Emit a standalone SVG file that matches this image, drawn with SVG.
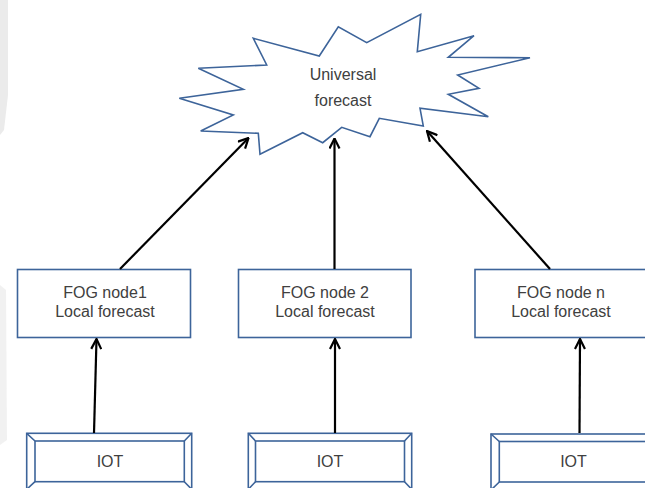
<svg xmlns="http://www.w3.org/2000/svg" width="645" height="488" viewBox="0 0 645 488">
  <style>
    .shape { fill: #ffffff; stroke: #3d649a; stroke-width: 1.6; }
    .label { font-family: "Liberation Sans", Arial, sans-serif; font-size: 16px; fill: #404040; text-anchor: middle; }
    .link { stroke: #000000; stroke-width: 2.2; fill: none; marker-end: url(#open-arrow); }
  </style>
  <defs>
    <marker id="open-arrow" viewBox="0 0 12 12" refX="11" refY="6" markerWidth="12" markerHeight="12" markerUnits="userSpaceOnUse" orient="auto">
      <path d="M1,1 L11,6 L1,11" fill="none" stroke="#000000" stroke-width="2.2" stroke-linejoin="miter"/>
    </marker>
  </defs>

  <rect width="645" height="488" fill="#ffffff"/>
  <!-- faint grey band on the left edge -->
  <g id="edge-shade" fill="#ebebeb">
    <path d="M0,0 L8,0 L8,95 L4,130 L0,135 Z"/>
    <path d="M0,285 L6,290 L7,440 L0,445 Z" opacity="0.7"/>
  </g>

  <g id="universal-forecast">
    <path class="shape" d="M179.3,98.3 L233.3,115 L200.7,131 L258.3,133.3 L260,154.3 L302.7,132.7 L322.7,142.7 L341.7,127.3 L370,136.7 L379.3,118.3 L423.3,126 L420,108.3 L488.3,116.7 L448.3,94.3 L479,88.3 L457.7,75 L530,57.7 L448.3,57.3 L474,35.7 L417.3,51.7 L420.7,14.3 L366.7,42.7 L338.3,26.7 L319.3,56 L253.3,38.3 L266.7,65 L198.3,68.3 L243.3,89.3 Z"/>
    <text class="label" x="343" y="80">Universal</text>
    <text class="label" x="343" y="105.5">forecast</text>
  </g>

  <g id="fog-node-1">
    <rect class="shape" x="17.5" y="269.5" width="173" height="68"/>
    <text class="label" x="105" y="298">FOG node1</text>
    <text class="label" x="105" y="316.5">Local forecast</text>
  </g>
  <g id="fog-node-2">
    <rect class="shape" x="238.5" y="269.5" width="172.5" height="68"/>
    <text class="label" x="325" y="298">FOG node 2</text>
    <text class="label" x="325" y="316.5">Local forecast</text>
  </g>
  <g id="fog-node-n">
    <rect class="shape" x="475" y="269.5" width="174" height="68"/>
    <text class="label" x="561" y="298">FOG node n</text>
    <text class="label" x="561" y="316.5">Local forecast</text>
  </g>

  <g id="iot-1">
    <rect class="shape" x="26.7" y="433.3" width="165" height="56"/>
    <rect class="shape" x="35" y="441" width="149.3" height="40.7"/>
    <path class="shape" d="M26.7,433.3 L35,441 M191.7,433.3 L184.3,441 M26.7,489.3 L35,481.7 M191.7,489.3 L184.3,481.7"/>
    <text class="label" x="110" y="467">IOT</text>
  </g>
  <g id="iot-2">
    <rect class="shape" x="248.3" y="433.3" width="163.4" height="56"/>
    <rect class="shape" x="255.5" y="441" width="149" height="40.7"/>
    <path class="shape" d="M248.3,433.3 L255.5,441 M411.7,433.3 L404.5,441 M248.3,489.3 L255.5,481.7 M411.7,489.3 L404.5,481.7"/>
    <text class="label" x="330" y="467">IOT</text>
  </g>
  <g id="iot-n">
    <rect class="shape" x="491" y="434" width="165" height="56"/>
    <rect class="shape" x="499.3" y="441.5" width="149" height="40.5"/>
    <path class="shape" d="M491,434 L499.3,441.5 M491,490 L499.3,482"/>
    <text class="label" x="573.5" y="467">IOT</text>
  </g>

  <g id="connectors">
    <line class="link" x1="120" y1="269" x2="248.5" y2="138"/>
    <line class="link" x1="334.5" y1="269" x2="334.5" y2="138.5"/>
    <line class="link" x1="550" y1="269" x2="427" y2="131"/>
    <line class="link" x1="94" y1="433" x2="96.5" y2="339"/>
    <line class="link" x1="335" y1="433" x2="335" y2="339"/>
    <line class="link" x1="579.5" y1="433" x2="580" y2="339"/>
  </g>
</svg>
